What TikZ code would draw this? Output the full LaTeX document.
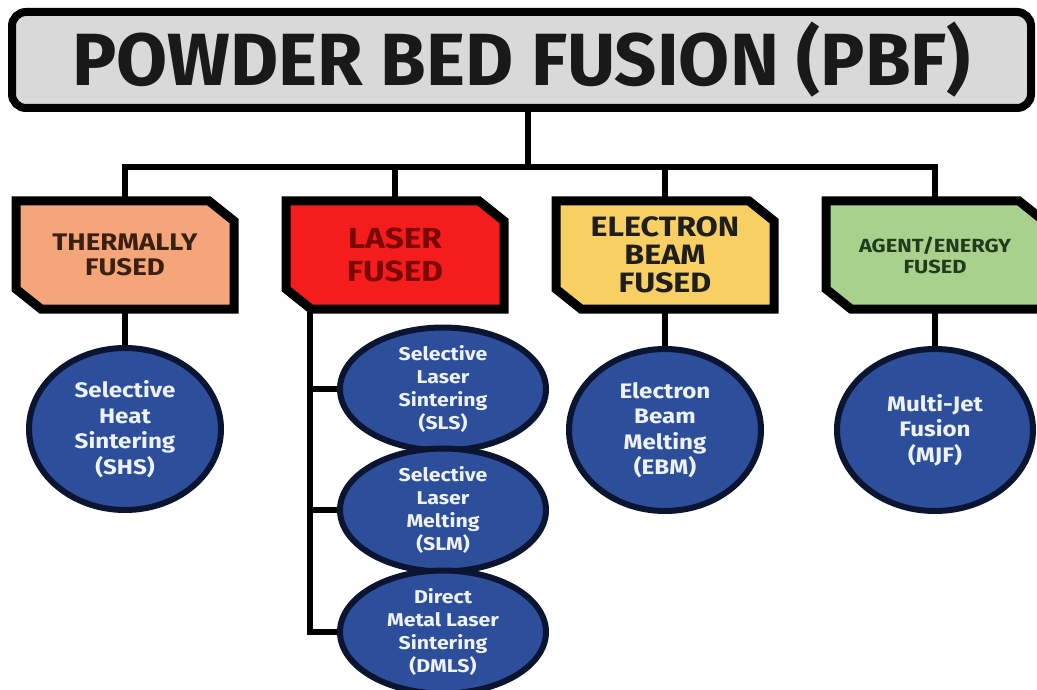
\documentclass[tikz,border=0pt]{standalone}
\usepackage{fontspec}
\setmainfont{Fira Sans}
\newfontfamily\widefont[FakeStretch=1.15]{Fira Sans}
\usetikzlibrary{shapes.geometric,backgrounds}
\definecolor{titlefill}{HTML}{D9D9D9}
\definecolor{thermfill}{HTML}{F4A67A}
\definecolor{laserfill}{HTML}{F41C1C}
\definecolor{elecfill}{HTML}{F8CF62}
\definecolor{agentfill}{HTML}{A8D18D}
\definecolor{ellfill}{HTML}{2D4F9B}
\definecolor{ellline}{HTML}{0B1430}
\definecolor{ellText}{HTML}{EEF2FA}
\definecolor{thermtext}{HTML}{3B1F10}
\definecolor{lasertext}{HTML}{7A0606}
\definecolor{electext}{HTML}{1E1E1E}
\definecolor{agenttext}{HTML}{1F3D1A}
\tikzset{
  conn/.style={line width=6pt, black},
  titlebox/.style={draw=black, line width=8pt, fill=titlefill, rounded corners=14pt,
    minimum width=1019pt, minimum height=96pt, inner sep=0pt,
    font=\fontsize{74}{78}\selectfont\bfseries, text=black!90},
  catbox/.style={rectangle, minimum width=218pt, minimum height=108pt,
    inner sep=0pt, outer sep=0pt, align=center},
  boxline/.style={draw=black, line width=9pt, line join=miter},
  method/.style={ellipse, draw=ellline, line width=6pt, fill=ellfill, inner sep=0pt,
    align=center, text=ellText, font=\widefont\fontsize{21}{25.5}\selectfont\bfseries,
    minimum width=192pt, minimum height=162pt},
  lmethod/.style={method, minimum width=206pt, minimum height=108pt,
    font=\widefont\fontsize{18.5}{23}\selectfont\bfseries}
}
\newcommand\chamferbox[2]{%
  \draw[boxline, fill=#2] (#1.north west) -- ([xshift=-25pt]#1.north east)
    -- ([yshift=-20pt]#1.north east) -- (#1.south east)
    -- ([xshift=25pt]#1.south west) -- ([yshift=20pt]#1.south west) -- cycle;}
\begin{document}
\begin{tikzpicture}[x=1pt,y=-1pt]
\begin{scope}[on background layer]
\fill[white] (0,0) rectangle (1037,690);
\end{scope}
\clip (0,0) rectangle (1037,690);

\node[titlebox] (title) at (521.5,60) {POWDER BED FUSION (PBF)};

\node[catbox, text=thermtext, font=\widefont\fontsize{24}{25}\selectfont\bfseries]
  (b1) at (125,255) {THERMALLY\\FUSED};
\node[catbox, text=lasertext, font=\widefont\fontsize{29}{33}\selectfont\bfseries]
  (b2) at (395,255) {LASER\\FUSED};
\node[catbox, text=electext, font=\widefont\fontsize{28}{28}\selectfont\bfseries]
  (b3) at (665,255) {ELECTRON\\BEAM\\FUSED};
\node[catbox, text=agenttext, font=\widefont\fontsize{19}{21}\selectfont\bfseries]
  (b4) at (935,255) {AGENT/ENERGY\\FUSED};

\begin{scope}[on background layer]
\chamferbox{b1}{thermfill}
\chamferbox{b2}{laserfill}
\chamferbox{b3}{elecfill}
\chamferbox{b4}{agentfill}
\end{scope}

\node[method] (shs) at (125,429) {Selective\\Heat\\Sintering\\(SHS)};
\node[method] (ebm) at (665,430) {Electron\\Beam\\Melting\\(EBM)};
\node[method, minimum width=196pt] (mjf) at (935,430) {Multi-Jet\\Fusion\\(MJF)};

\node[lmethod] (sls) at (443,389) {Selective\\Laser\\Sintering\\(SLS)};
\node[lmethod] (slm) at (443,510) {Selective\\Laser\\Melting\\(SLM)};
\node[lmethod] (dmls) at (443,632) {Direct\\Metal Laser\\Sintering\\(DMLS)};

\coordinate (bus) at (528,167);
\coordinate (lx) at (310,0);

\draw[conn] (title.south -| bus) -- (bus);
\draw[conn] (b1.north) -- (b1.north |- bus) -- (b4.north |- bus) -- (b4.north);
\draw[conn] (b2.north) -- (b2.north |- bus);
\draw[conn] (b3.north) -- (b3.north |- bus);

\draw[conn] (b1.south) -- (shs.north);
\draw[conn] (b3.south) -- (ebm.north);
\draw[conn] (b4.south) -- (mjf.north);

\draw[conn] (b2.south -| lx) -- (dmls.west -| lx) -- (dmls.west);
\draw[conn] (sls.west -| lx) -- (sls.west);
\draw[conn] (slm.west -| lx) -- (slm.west);
\end{tikzpicture}
\end{document}
